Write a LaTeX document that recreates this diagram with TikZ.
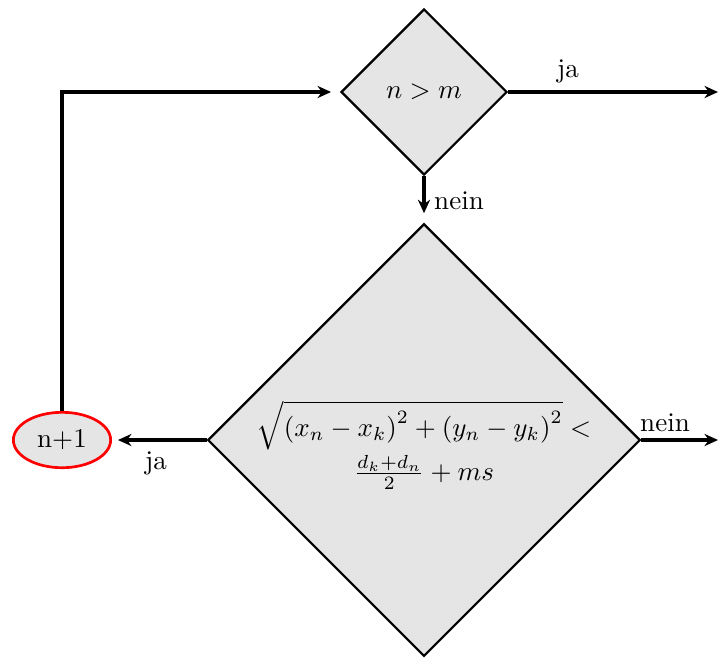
\documentclass[tikz,border=0pt]{standalone}
\usetikzlibrary{shapes.geometric,arrows.meta}
\begin{document}
\begin{tikzpicture}[x=0.37pt,y=-0.37pt,
  decision/.style={diamond,draw=black,fill=gray!20,line width=0.8pt,inner sep=0pt,aspect=1},
  flow/.style={line width=1.2pt,-{Stealth[length=5pt,width=4.5pt,inset=1.6pt]}},
  lbl/.style={inner sep=0pt},
  counter/.style={ellipse,draw=red,fill=gray!20,line width=1pt,minimum width=36pt,minimum height=20.5pt,inner sep=0pt}]
\useasboundingbox (0,0) rectangle (718,657);
\node[decision,minimum width=61.4pt,minimum height=61.4pt] (d1) at (424,92) {$n>m$};
\node[decision,minimum width=160pt,minimum height=160pt] (d2) at (424,440) {};
\node[align=center,inner sep=0pt] (f) at (424,445) {$\sqrt{{(x_n-x_k)}^2+{(y_n-y_k)}^2}<$\\[1pt] $\frac{d_k+d_n}{2}+ms$};
\node[counter] (c) at (62,440) {n+1};
\coordinate (e1) at (718,92);
\coordinate (e2) at (718,440);
\coordinate (k) at (62,92);
\draw[flow] (d1.east) -- (e1);
\draw[flow,shorten >=3.5pt] (d1.south) -- (d2.north);
\draw[flow] (d2.east) -- (e2);
\draw[flow,shorten >=2.2pt] (d2.west) -- (c.east);
\draw[flow,shorten >=3.3pt] (c.north) -- (k) -- (d1.west);
\node[lbl] (l1) at (568,71) {ja};
\node[lbl] (l2) at (459,201) {nein};
\node[lbl] (l3) at (665,423) {nein};
\node[lbl] (l4) at (156,463) {ja};
\end{tikzpicture}
\end{document}
